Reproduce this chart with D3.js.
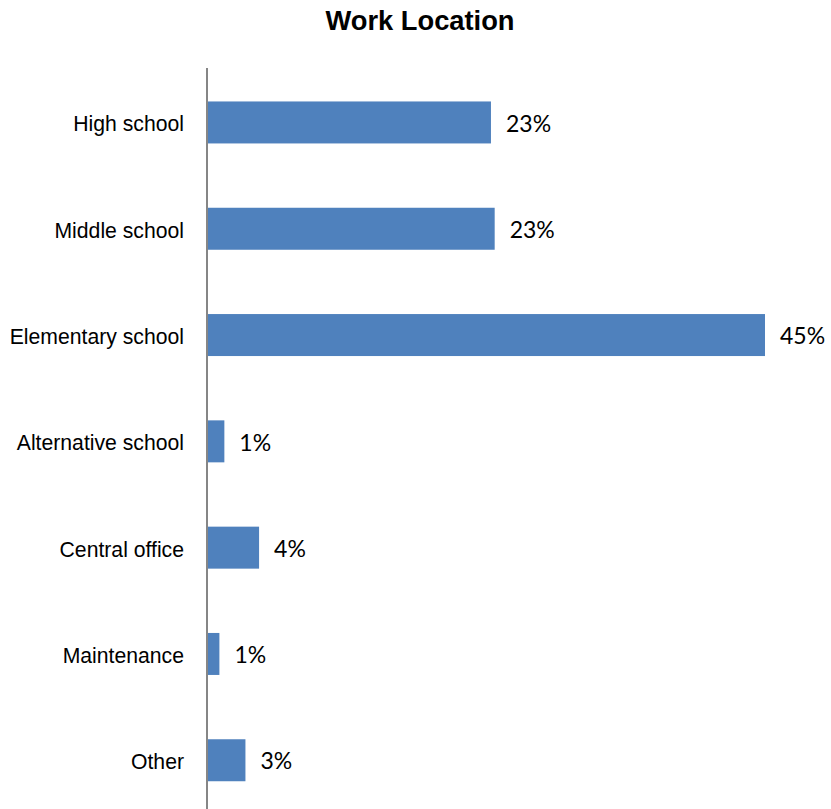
<!DOCTYPE html>
<html>
<head>
<meta charset="utf-8">
<script src="https://cdn.jsdelivr.net/npm/d3@7"></script>
<style>
  html, body { margin: 0; padding: 0; background: #fff; }
  svg { display: block; }
</style>
</head>
<body>
<svg id="chart" width="831" height="809"></svg>
<script>
// Work location shares (fraction of respondents)
const categories = ["High school", "Middle school", "Elementary school", "Alternative school", "Central office", "Maintenance", "Other"];
const shares = [0.229, 0.232, 0.45, 0.014, 0.042, 0.010, 0.031];
const title = "Work Location";

const svg = d3.select("#chart");
const W = 831, H = 809;
const axisX = 207;

const x = d3.scaleLinear().domain([0, 0.45]).range([axisX, 765]);
const y = d3.scaleBand().domain(categories).range([69.3, 813.4]).paddingInner(0.605).paddingOuter(0.3025);

const fmt = d3.format(".0%");

// Title
svg.append("text")
  .attr("x", 420).attr("y", 30)
  .attr("text-anchor", "middle")
  .attr("font-family", "'Liberation Sans', Arial, sans-serif")
  .attr("font-weight", "bold")
  .attr("font-size", 27.3)
  .attr("fill", "#000")
  .text(title);

const data = categories.map((c, i) => ({ c, v: shares[i] }));

// Bars
svg.append("g").selectAll("rect")
  .data(data)
  .join("rect")
  .attr("x", x(0))
  .attr("y", d => y(d.c))
  .attr("width", d => x(d.v) - x(0))
  .attr("height", y.bandwidth())
  .attr("fill", "#4F81BD");

// Category axis (left)
const yAxis = d3.axisLeft(y).tickSize(0).tickPadding(23);
const gy = svg.append("g").attr("transform", `translate(${axisX},0)`).call(yAxis);
gy.select(".domain").attr("stroke", "#868686").attr("stroke-width", 2).attr("d", `M0,68V${H + 5}`);
gy.selectAll(".tick text")
  .attr("font-family", "'Liberation Sans', Arial, sans-serif")
  .attr("font-size", 21.2)
  .attr("dy", "0.42em")
  .attr("fill", "#000");

// Value labels
svg.append("g").selectAll("text")
  .data(data)
  .join("text")
  .attr("x", d => x(d.v) + 15)
  .attr("y", d => y(d.c) + y.bandwidth() / 2)
  .attr("dy", "0.4em")
  .attr("font-family", "Lato, 'Open Sans', sans-serif")
  .attr("font-size", 23)
  .attr("fill", "#000")
  .text(d => fmt(d.v));
</script>
</body>
</html>
